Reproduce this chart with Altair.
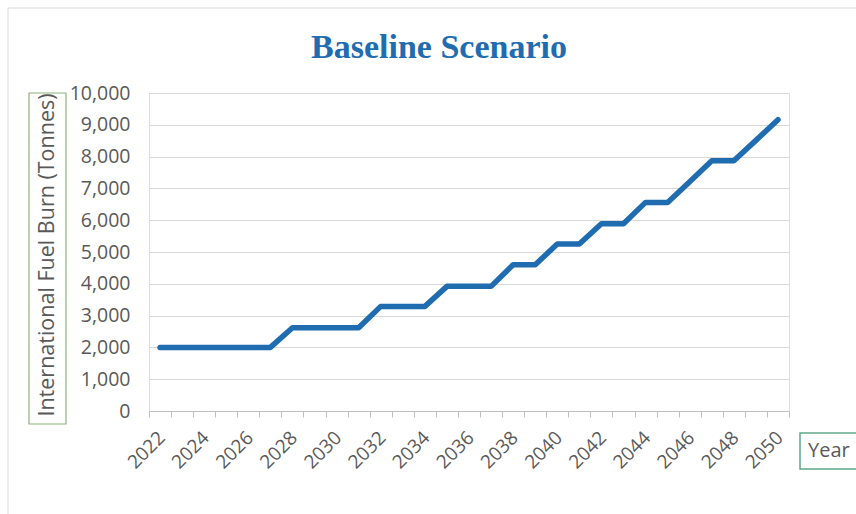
import altair as alt
import pandas as pd

# Annual international fuel burn under the baseline scenario (tonnes)
years = [2022, 2023, 2024, 2025, 2026, 2027, 2028, 2029, 2030, 2031,
         2032, 2033, 2034, 2035, 2036, 2037, 2038, 2039, 2040, 2041,
         2042, 2043, 2044, 2045, 2046, 2047, 2048, 2049, 2050]
fuel_burn = [2000, 2000, 2000, 2000, 2000, 2000, 2620, 2620, 2620, 2620,
             3290, 3290, 3290, 3920, 3920, 3920, 4600, 4600, 5250, 5250,
             5890, 5890, 6560, 6560, 7210, 7870, 7870, 8510, 9160]

y_ticks = [0, 1000, 2000, 3000, 4000, 5000, 6000, 7000, 8000, 9000, 10000]

title_text = "Baseline Scenario"
y_title = "International Fuel Burn (Tonnes)"
x_title = "Year"

df = pd.DataFrame({"year": years, "burn": fuel_burn})
one = pd.DataFrame({"k": [0]})

W, H = 640, 318
LABEL_FONT = "Open Sans"
GREY = "#595959"

x_enc = alt.X(
    "year:O",
    scale=alt.Scale(paddingInner=0, paddingOuter=0),
    axis=alt.Axis(
        title=None,
        tickBand="extent",
        labelExpr="datum.value % 2 == 0 ? datum.label : ''",
        labelAngle=-45,
        labelOverlap=False,
        labelFont=LABEL_FONT,
        labelFontSize=19,
        labelColor=GREY,
        labelPadding=11,
        labelOffset=-5,
        domainColor="#bfbfbf",
        tickColor="#bfbfbf",
        tickSize=6,
        grid=False,
    ),
)

y_enc = alt.Y(
    "burn:Q",
    scale=alt.Scale(domain=[0, 10000], nice=False),
    axis=alt.Axis(
        title=None,
        values=y_ticks,
        format=",d",
        labelFont=LABEL_FONT,
        labelFontSize=19.5,
        labelColor=GREY,
        labelPadding=19,
        ticks=False,
        domain=False,
        grid=True,
        gridColor="#d9d9d9",
        gridWidth=1,
    ),
)

line = alt.Chart(df).mark_line(
    color="#1f6cb0", strokeWidth=5.5, strokeCap="round", strokeJoin="round"
).encode(x=x_enc, y=y_enc)

# outer chart frame
frame = alt.Chart(one).mark_rect(
    fill=None, stroke="#d9d9d9", strokeWidth=1
).encode(x=alt.value(-141), x2=alt.value(740), y=alt.value(-85), y2=alt.value(460))

# chart heading
heading = alt.Chart(one).mark_text(
    text=title_text, align="center", baseline="alphabetic",
    font="Liberation Serif", fontSize=34, fontWeight="bold", color="#1f6cb0",
).encode(x=alt.value(290), y=alt.value(-35))

# boxed vertical axis title
y_box = alt.Chart(one).mark_rect(
    fill=None, stroke="#8db47c", strokeWidth=1.2
).encode(x=alt.value(-120), x2=alt.value(-83), y=alt.value(0), y2=alt.value(331))

y_label = alt.Chart(one).mark_text(
    text=y_title, angle=270, align="center", baseline="middle",
    font=LABEL_FONT, fontSize=21.5, color=GREY,
).encode(x=alt.value(-101), y=alt.value(162))

# boxed horizontal axis title
x_box = alt.Chart(one).mark_rect(
    fill=None, stroke="#5fa88a", strokeWidth=1.5
).encode(x=alt.value(651), x2=alt.value(730), y=alt.value(340), y2=alt.value(376))

x_label = alt.Chart(one).mark_text(
    text=x_title, align="left", baseline="middle",
    font=LABEL_FONT, fontSize=20, color=GREY,
).encode(x=alt.value(659), y=alt.value(358))

chart = alt.layer(frame, line, heading, y_box, y_label, x_box, x_label).properties(
    width=W,
    height=H,
    autosize=alt.AutoSizeParams(type="none"),
    padding={"left": 149, "top": 93, "right": 67, "bottom": 103},
).configure_view(stroke=None).configure(background="white")

chart.save("out.html", embed_options={"renderer": "svg", "actions": False})
